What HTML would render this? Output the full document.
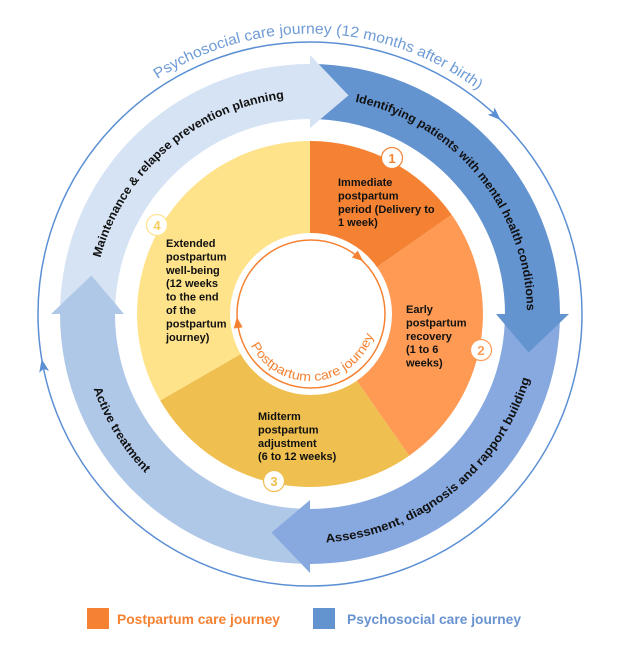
<!DOCTYPE html>
<html><head><meta charset="utf-8"><style>
html,body{margin:0;padding:0;background:#fff;}
svg{display:block;font-family:"Liberation Sans",sans-serif;}
</style></head><body>
<svg width="624" height="657" viewBox="0 0 624 657" xmlns="http://www.w3.org/2000/svg">
<defs>
<path id="pTitle" d="M157.5,79.2 A278,278 0 0 1 478.5,90.4" fill="none"/>
<path id="pIdent" d="M355.1,101.8 A217,217 0 0 1 527,314" fill="none"/>
<path id="pMaint" d="M100.4,257.8 A217,217 0 0 1 287.3,98.2" fill="none"/>
<path id="pAssess" d="M326,542.5 A229,229 0 0 0 530.1,377.1" fill="none"/>
<path id="pActive" d="M93.5,388.6 A229,229 0 0 0 150.9,478.7" fill="none"/>
<path id="pPost" d="M250.8,345.5 A67,67 0 0 0 375.5,327.9" fill="none"/>
</defs>

<circle cx="310" cy="314" r="272" fill="none" stroke="#5B8FD4" stroke-width="1.5"/>
<polygon transform="translate(495.5,115.2) rotate(43)" points="7,0 -6,-5 -3,0 -6,5" fill="#5B8FD4"/>
<polygon transform="translate(43,365.9) rotate(259)" points="7,0 -6,-5 -3,0 -6,5" fill="#5B8FD4"/>

<path d="M310,64 A250,250 0 0 1 560,314 L505,314 A195,195 0 0 0 310,119 Z" fill="#6494D0"/>
<path d="M560,314 A250,250 0 0 1 310,564 L310,509 A195,195 0 0 0 505,314 Z" fill="#87A9DF"/>
<path d="M310,564 A250,250 0 0 1 60,314 L115,314 A195,195 0 0 0 310,509 Z" fill="#B0C8E8"/>
<path d="M60,314 A250,250 0 0 1 310,64 L310,119 A195,195 0 0 0 115,314 Z" fill="#D5E3F4"/>
<polygon points="310,55 348.5,95.4 310,128" fill="#D5E3F4"/>
<polygon points="569,314 528.6,352.5 496,314" fill="#6494D0"/>
<polygon points="310,573 271.5,532.6 310,500" fill="#87A9DF"/>
<polygon points="51,314 91.4,275.5 124,314" fill="#B0C8E8"/>

<path d="M310,314 L310,141 A173,173 0 0 1 451.7,214.8 Z" fill="#F58232"/>
<path d="M310,314 L451.7,214.8 A173,173 0 0 1 409.2,455.7 Z" fill="#FE9A54"/>
<path d="M310,314 L409.2,455.7 A173,173 0 0 1 160.2,400.5 Z" fill="#EFBF4F"/>
<path d="M310,314 L160.2,400.5 A173,173 0 0 1 310,141 Z" fill="#FFE38B"/>
<circle cx="311" cy="314" r="81" fill="#fff"/>
<circle cx="311" cy="314" r="74" fill="none" stroke="#F58232" stroke-width="1.5"/>
<polygon transform="translate(358.6,257.3) rotate(40)" points="6,0 -5,-4.5 -5,4.5" fill="#F58232"/>
<polygon transform="translate(237.6,323) rotate(263)" points="6,0 -5,-4.5 -5,4.5" fill="#F58232"/>

<g font-weight="bold" font-size="13" text-anchor="middle">
<circle cx="392" cy="158" r="10.5" fill="#fff" stroke="#F58232" stroke-width="1.2"/>
<text x="392" y="163" fill="#F58232">1</text>
<circle cx="481" cy="350" r="10.5" fill="#fff" stroke="#FE9A54" stroke-width="1.2"/>
<text x="481" y="355" fill="#FE9A54">2</text>
<circle cx="274" cy="481" r="10.5" fill="#fff" stroke="#EFBF4F" stroke-width="1.2"/>
<text x="274" y="486" fill="#EFBF4F">3</text>
<circle cx="157" cy="225" r="10.5" fill="#fff" stroke="#FFE38B" stroke-width="1.2"/>
<text x="157" y="230" fill="#F5CF5A">4</text>
</g>

<g font-weight="bold" font-size="11" fill="#111">
<text x="338" y="186"><tspan x="338">Immediate</tspan><tspan x="338" dy="13.4">postpartum</tspan><tspan x="338" dy="13.4">period (Delivery to</tspan><tspan x="338" dy="13.4">1 week)</tspan></text>
<text x="406" y="313"><tspan x="406">Early</tspan><tspan x="406" dy="13.4">postpartum</tspan><tspan x="406" dy="13.4">recovery</tspan><tspan x="406" dy="13.4">(1 to 6</tspan><tspan x="406" dy="13.4">weeks)</tspan></text>
<text x="258" y="420"><tspan x="258">Midterm</tspan><tspan x="258" dy="13.4">postpartum</tspan><tspan x="258" dy="13.4">adjustment</tspan><tspan x="258" dy="13.4">(6 to 12 weeks)</tspan></text>
<text x="166" y="247"><tspan x="166">Extended</tspan><tspan x="166" dy="13.4">postpartum</tspan><tspan x="166" dy="13.4">well-being</tspan><tspan x="166" dy="13.4">(12 weeks</tspan><tspan x="166" dy="13.4">to the end</tspan><tspan x="166" dy="13.4">of the</tspan><tspan x="166" dy="13.4">postpartum</tspan><tspan x="166" dy="13.4">journey)</tspan></text>
</g>

<text font-size="15" fill="#6E9BD6"><textPath href="#pTitle" textLength="342" lengthAdjust="spacingAndGlyphs">Psychosocial care journey (12 months after birth)</textPath></text>
<text font-size="12" font-weight="bold" fill="#111"><textPath href="#pIdent" textLength="292" lengthAdjust="spacingAndGlyphs">Identifying patients with mental health conditions</textPath></text>
<text font-size="12" font-weight="bold" fill="#111"><textPath href="#pMaint" textLength="258" lengthAdjust="spacingAndGlyphs">Maintenance &amp; relapse prevention planning</textPath></text>
<text font-size="12" font-weight="bold" fill="#111"><textPath href="#pAssess" textLength="278" lengthAdjust="spacingAndGlyphs">Assessment, diagnosis and rapport building</textPath></text>
<text font-size="12" font-weight="bold" fill="#111"><textPath href="#pActive" textLength="100" lengthAdjust="spacingAndGlyphs">Active treatment</textPath></text>
<text font-size="13" fill="#F58232"><textPath href="#pPost" textLength="156" lengthAdjust="spacingAndGlyphs">Postpartum care journey</textPath></text>

<rect x="87" y="608" width="22" height="21" fill="#F58232"/>
<text x="117" y="624" font-size="14" font-weight="bold" fill="#F58232" textLength="163" lengthAdjust="spacingAndGlyphs">Postpartum care journey</text>
<rect x="313" y="608" width="22" height="21" fill="#6494D0"/>
<text x="347" y="624" font-size="14" font-weight="bold" fill="#6893D0" textLength="174" lengthAdjust="spacingAndGlyphs">Psychosocial care journey</text>
</svg>
</body></html>
